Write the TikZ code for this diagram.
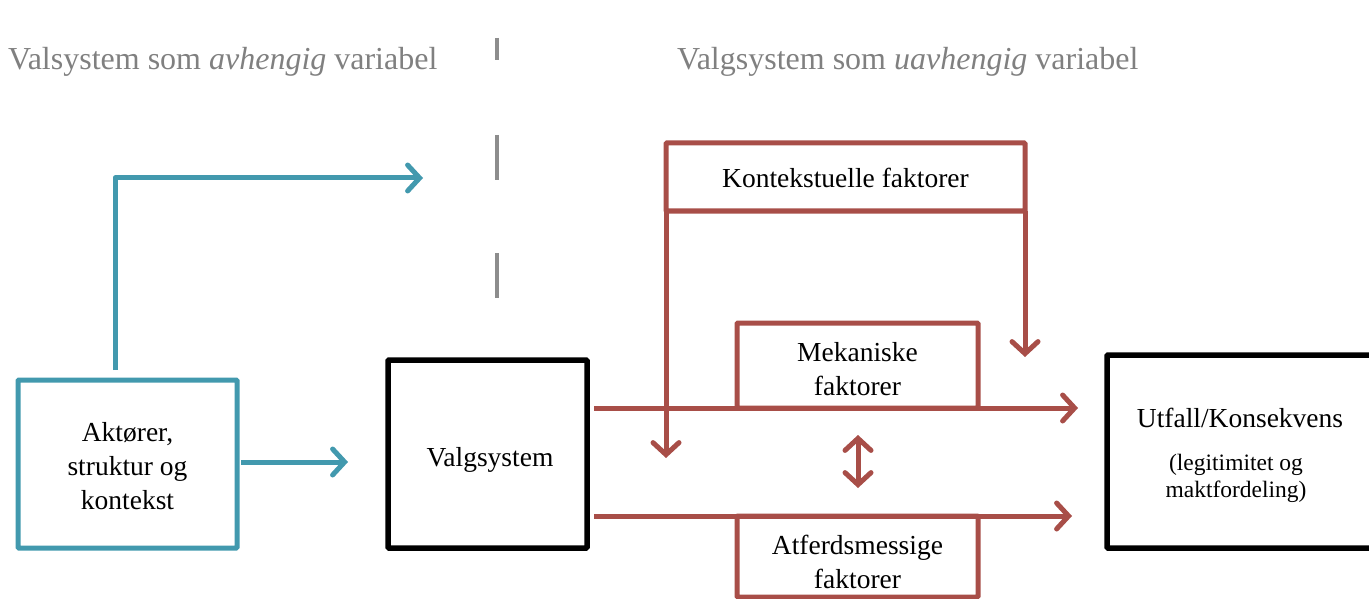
\documentclass[tikz,border=0pt]{standalone}
\usepackage{fontspec}
\setmainfont{Liberation Serif}
\usetikzlibrary{arrows.meta}
\definecolor{tblue}{RGB}{66,153,174}
\definecolor{tred}{RGB}{168,78,72}
\definecolor{tgray}{RGB}{128,128,128}
\begin{document}
\begin{tikzpicture}[x=1pt,y=-1pt,
  bluebox/.style={draw=tblue,line width=5pt,rounded corners=1pt},
  redbox/.style={draw=tred,line width=5pt,rounded corners=1pt},
  blackbox/.style={draw=black,line width=5.5pt,rounded corners=1pt},
  txt/.style={font=\fontsize{27.5}{34}\selectfont,align=center},
  small/.style={font=\fontsize{23.5}{27}\selectfont,align=center},
  head/.style={font=\fontsize{32}{36}\selectfont,text=tgray},
  barb/.style={-{Straight Barb[length=12pt,width=26pt,line cap=round,line width=5pt]},line width=5pt},
  bluearr/.style={barb,draw=tblue},
  redarr/.style={barb,draw=tred},
  divider/.style={draw=tgray!90,line width=4.5pt}
]
\useasboundingbox (0,0) rectangle (1369,599);
\begin{scope}
\clip (0,0) rectangle (1369,599);
% headings
\node[head,anchor=base west,inner sep=0pt] (hl) at (8,70) {Valsystem som \textit{avhengig} variabel};
\node[head,anchor=base west,inner sep=0pt] (hr) at (677,70) {Valgsystem som \textit{uavhengig} variabel};
% divider
\coordinate (d1a) at (497,38); \coordinate (d1b) at (497,60);
\coordinate (d2a) at (497,135); \coordinate (d2b) at (497,180);
\coordinate (d3a) at (497,253); \coordinate (d3b) at (497,298);
\draw[divider] (d1a) -- (d1b);
\draw[divider] (d2a) -- (d2b);
\draw[divider] (d3a) -- (d3b);
% boxes
\draw[bluebox] (18,380) rectangle (237,548);
\node[txt] (akt) at (127.5,466) {Aktører,\\struktur og\\kontekst};
\draw[blackbox] (388,360) rectangle (587,548);
\node[txt] (valg) at (490,460) {Valgsystem};
\draw[redbox] (666,143) rectangle (1025,211);
\node[txt] (kont) at (845.5,178) {Kontekstuelle faktorer};
\draw[redbox] (737,323) rectangle (978,408);
\node[txt] (mek) at (857.5,369) {Mekaniske\\faktorer};
\draw[redbox] (737,516) rectangle (978,597);
\node[txt] (atf) at (857.5,562) {Atferdsmessige\\faktorer};
\draw[blackbox] (1107,355) rectangle (1380,548);
\node[txt] (utf) at (1240,418) {Utfall/Konsekvens};
\node[small] (leg) at (1236,478) {(legitimitet og\\maktfordeling)};
% blue connectors
\coordinate (b0) at (115,370);
\coordinate (b1) at (115,178);
\coordinate (b2) at (423,178);
\draw[bluearr,line join=round] (b0) -- (b1) -- (b2);
\coordinate (a0) at (241,462);
\coordinate (a1) at (348,462);
\draw[bluearr] (a0) -- (a1);
% red connectors
\coordinate (k0) at (666,211);
\coordinate (k1) at (666,458);
\draw[redarr] (k0) -- (k1);
\coordinate (k2) at (1025,211);
\coordinate (k3) at (1025,357);
\draw[redarr] (k2) -- (k3);
\coordinate (m0) at (594,408);
\coordinate (m1) at (1078,408);
\draw[redarr] (m0) -- (m1);
\coordinate (n0) at (594,516);
\coordinate (n1) at (1072,516);
\draw[redarr] (n0) -- (n1);
\coordinate (e0) at (858,435);
\coordinate (e1) at (858,488);
\draw[redarr,{Straight Barb[length=12pt,width=26pt,line cap=round,line width=5pt]}-{Straight Barb[length=12pt,width=26pt,line cap=round,line width=5pt]}] (e0) -- (e1);
\end{scope}
\end{tikzpicture}
\end{document}
